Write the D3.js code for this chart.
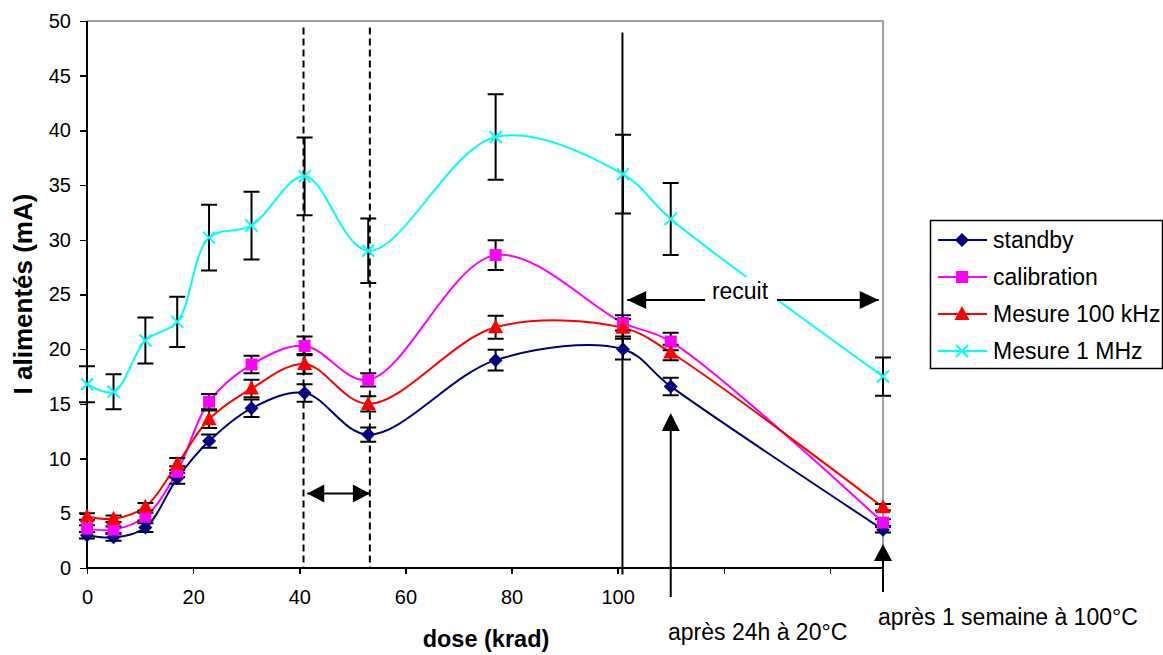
<html lang="fr">
<head>
<meta charset="utf-8">
<title>I alimentés vs dose</title>
<style>
  body { margin: 0; background: white; font-family: "Liberation Sans", Arial, sans-serif; }
  svg { display: block; background: white; }
  .axis path, .axis line { stroke: black; stroke-width: 1.5; shape-rendering: crispEdges; }
  .axis text { font-family: "Liberation Sans", Arial, sans-serif; font-size: 20px; fill: black; }
  .title { font-family: "Liberation Sans", Arial, sans-serif; font-weight: bold; }
  .note { font-family: "Liberation Sans", Arial, sans-serif; font-size: 23px; }
</style>
</head>
<body>
<script src="https://cdnjs.cloudflare.com/ajax/libs/d3/7.8.5/d3.min.js"></script>
<script>
// dose values (krad), one per measurement
var doses = [0, 5, 11, 17, 23, 31, 41, 53, 77, 101, 110, 150];

var standby        = [3.0, 2.8, 3.7, 8.2, 11.6, 14.6, 16.0, 12.2, 19.0, 20.0, 16.6, 3.5];
var standbyErr     = [0.3, 0.3, 0.4, 0.5, 0.6, 0.8, 0.8, 0.65, 0.95, 0.95, 0.8, 0.25];
var calibration    = [3.6, 3.5, 4.7, 8.8, 15.2, 18.6, 20.3, 17.2, 28.6, 22.4, 20.7, 4.15];
var calibrationErr = [0.3, 0.3, 0.35, 0.5, 0.7, 0.8, 0.85, 0.6, 1.35, 0.7, 0.8, 0.3];
var mesure100k     = [4.7, 4.5, 5.6, 9.5, 13.6, 16.4, 18.65, 15.0, 22.0, 21.95, 19.7, 5.55];
var mesure100kErr  = [0.3, 0.3, 0.35, 0.55, 0.8, 0.8, 0.9, 0.7, 1.05, 0.8, 0.7, 0.3];
var mesure1M       = [16.8, 16.1, 20.8, 22.5, 30.2, 31.3, 35.8, 29.0, 39.4, 36.0, 31.9, 17.5];
var mesure1MErr    = [1.65, 1.6, 2.1, 2.3, 3.0, 3.1, 3.55, 2.95, 3.9, 3.6, 3.3, 1.75];

var seriesNames = ["standby", "calibration", "Mesure 100 kHz", "Mesure 1 MHz"];
var xTicks = [0, 20, 40, 60, 80, 100, 120, 140];
var xTickLabels = ["0", "20", "40", "60", "80", "100", "", ""];
var yTicks = [0, 5, 10, 15, 20, 25, 30, 35, 40, 45, 50];

// annotation anchors, in data units
var dashedDoses = [40.8, 53.3];
var solidDose = 100.9;
var arrowDoses = [110, 150];

var W = 1163, H = 655;
var svg = d3.select("body").append("svg").attr("width", W).attr("height", H);

var x = d3.scaleLinear().domain([0, 150]).range([87, 883]);
var y = d3.scaleLinear().domain([0, 50]).range([568, 21]);

var series = [
  { name: seriesNames[0], vals: standby, err: standbyErr, color: "#000080", shape: "diamond" },
  { name: seriesNames[1], vals: calibration, err: calibrationErr, color: "#ff00ff", shape: "square" },
  { name: seriesNames[2], vals: mesure100k, err: mesure100kErr, color: "#ff0000", shape: "triangle" },
  { name: seriesNames[3], vals: mesure1M, err: mesure1MErr, color: "#00ffff", shape: "x" }
];

// plot area frame (top and right, gray)
svg.append("path")
  .attr("d", "M" + x(0) + "," + y(50) + "H" + x(150) + "V" + y(0))
  .attr("fill", "none").attr("stroke", "#808080").attr("stroke-width", 1.5);

// axes
var xAxis = d3.axisBottom(x).tickValues(xTicks).tickSize(6)
  .tickFormat(function(d, i) { return xTickLabels[i]; });
var yAxis = d3.axisLeft(y).tickValues(yTicks).tickSize(7).tickFormat(d3.format("d"));

svg.append("g").attr("class", "axis")
  .attr("transform", "translate(0," + y(0) + ")")
  .call(xAxis)
  .call(function(g) { g.select(".domain").attr("d", "M" + x(0) + ",0H" + x(150)); })
  .selectAll("text").attr("dy", "1.35em");

svg.append("g").attr("class", "axis")
  .attr("transform", "translate(" + x(0) + ",0)")
  .call(yAxis)
  .call(function(g) { g.select(".domain").attr("d", "M0," + y(50) + "V" + y(0)); })
  .selectAll("text").attr("x", -16);

// titles
svg.append("text").attr("class", "title")
  .attr("x", 486).attr("y", 647).attr("text-anchor", "middle")
  .style("font-size", "23.5px")
  .text("dose (krad)");
svg.append("text").attr("class", "title")
  .attr("transform", "translate(32," + 294 + ") rotate(-90)")
  .attr("text-anchor", "middle")
  .style("font-size", "26px")
  .text("I alimentés (mA)");

// vertical guide lines
svg.selectAll(".dashed").data(dashedDoses).enter().append("line")
  .attr("x1", function(d) { return x(d); }).attr("x2", function(d) { return x(d); })
  .attr("y1", y(49.4)).attr("y2", y(0))
  .attr("stroke", "black").attr("stroke-width", 2).attr("stroke-dasharray", "7,4");

svg.append("line")
  .attr("x1", x(solidDose)).attr("x2", x(solidDose))
  .attr("y1", y(48.95)).attr("y2", y(-0.6))
  .attr("stroke", "black").attr("stroke-width", 2);

// smoothed lines
var line = d3.line()
  .x(function(d) { return x(d[0]); })
  .y(function(d) { return y(d[1]); })
  .curve(d3.curveCatmullRom.alpha(0.5));

series.forEach(function(s) {
  svg.append("path")
    .datum(doses.map(function(d, i) { return [d, s.vals[i]]; }))
    .attr("d", line)
    .attr("fill", "none")
    .attr("stroke", s.color)
    .attr("stroke-width", 2);
});

// error bars
series.forEach(function(s) {
  var g = svg.append("g").attr("stroke", "black").attr("stroke-width", 2);
  doses.forEach(function(d, i) {
    var cx = x(d), lo = y(s.vals[i] - s.err[i]), hi = y(s.vals[i] + s.err[i]);
    g.append("path")
      .attr("d", "M" + cx + "," + lo + "V" + hi +
                 "M" + (cx - 8) + "," + hi + "H" + (cx + 8) +
                 "M" + (cx - 8) + "," + lo + "H" + (cx + 8))
      .attr("fill", "none");
  });
});

function marker(sel, shape, color, cx, cy) {
  if (shape === "diamond") {
    sel.append("path").attr("d", "M" + cx + "," + (cy - 7) + "L" + (cx + 7) + "," + cy +
      "L" + cx + "," + (cy + 7) + "L" + (cx - 7) + "," + cy + "Z").attr("fill", color);
  } else if (shape === "square") {
    sel.append("rect").attr("x", cx - 6).attr("y", cy - 6).attr("width", 12).attr("height", 12)
      .attr("fill", color);
  } else if (shape === "triangle") {
    sel.append("path").attr("d", "M" + cx + "," + (cy - 8) + "L" + (cx + 7.5) + "," + (cy + 6) +
      "L" + (cx - 7.5) + "," + (cy + 6) + "Z").attr("fill", color);
  } else {
    sel.append("path").attr("d", "M" + (cx - 6) + "," + (cy - 6) + "L" + (cx + 6) + "," + (cy + 6) +
      "M" + (cx + 6) + "," + (cy - 6) + "L" + (cx - 6) + "," + (cy + 6))
      .attr("stroke", color).attr("stroke-width", 2).attr("fill", "none");
  }
}

series.forEach(function(s) {
  var g = svg.append("g");
  doses.forEach(function(d, i) { marker(g, s.shape, s.color, x(d), y(s.vals[i])); });
});

// arrows
function head(px, py, dir, len, half) {
  // dir: "l", "r", "u"
  var p;
  if (dir === "l") p = [[px, py], [px + len, py - half], [px + len, py + half]];
  else if (dir === "r") p = [[px, py], [px - len, py - half], [px - len, py + half]];
  else p = [[px, py], [px - half, py + len], [px + half, py + len]];
  svg.append("path").attr("d", "M" + p.join("L") + "Z").attr("fill", "black");
}

// between the dashed lines
var yMid = y(6.8);
svg.append("line").attr("x1", x(41.5)).attr("x2", x(53.3)).attr("y1", yMid).attr("y2", yMid)
  .attr("stroke", "black").attr("stroke-width", 2);
head(x(41.5), yMid, "l", 17, 9);
head(x(53.3), yMid, "r", 17, 9);

// recuit
var yRec = y(24.5);
svg.append("line").attr("x1", x(101.8)).attr("x2", x(149.2)).attr("y1", yRec).attr("y2", yRec)
  .attr("stroke", "black").attr("stroke-width", 2);
head(x(101.8), yRec, "l", 19, 9);
head(x(149.2), yRec, "r", 19, 9);
svg.append("rect").attr("x", 705).attr("y", 277).attr("width", 72).attr("height", 24).attr("fill", "white");
svg.append("text").attr("class", "note").attr("x", 740).attr("y", 299).attr("text-anchor", "middle")
  .text("recuit");

// upward arrows
svg.append("line").attr("x1", x(arrowDoses[0])).attr("x2", x(arrowDoses[0]))
  .attr("y1", 597).attr("y2", 420).attr("stroke", "black").attr("stroke-width", 2);
head(x(arrowDoses[0]), 413, "u", 18, 9);
svg.append("line").attr("x1", x(arrowDoses[1])).attr("x2", x(arrowDoses[1]))
  .attr("y1", 592).attr("y2", 550).attr("stroke", "black").attr("stroke-width", 2);
head(x(arrowDoses[1]), 544, "u", 17, 9);

svg.append("text").attr("class", "note").attr("x", 668).attr("y", 640).text("après 24h à 20°C");
svg.append("text").attr("class", "note").attr("x", 878).attr("y", 625).text("après 1 semaine à 100°C");

// legend
var lg = svg.append("g");
lg.append("rect").attr("x", 930.5).attr("y", 220.5).attr("width", 232).attr("height", 148)
  .attr("fill", "white").attr("stroke", "black").attr("stroke-width", 1.5);
series.forEach(function(s, i) {
  var ly = 240 + i * 37;
  lg.append("line").attr("x1", 938).attr("x2", 987).attr("y1", ly).attr("y2", ly)
    .attr("stroke", s.color).attr("stroke-width", 2);
  marker(lg, s.shape, s.color, 962, ly);
  lg.append("text").attr("class", "note").attr("x", 993).attr("y", ly + 8)
    .text(s.name);
});
</script>
</body>
</html>
